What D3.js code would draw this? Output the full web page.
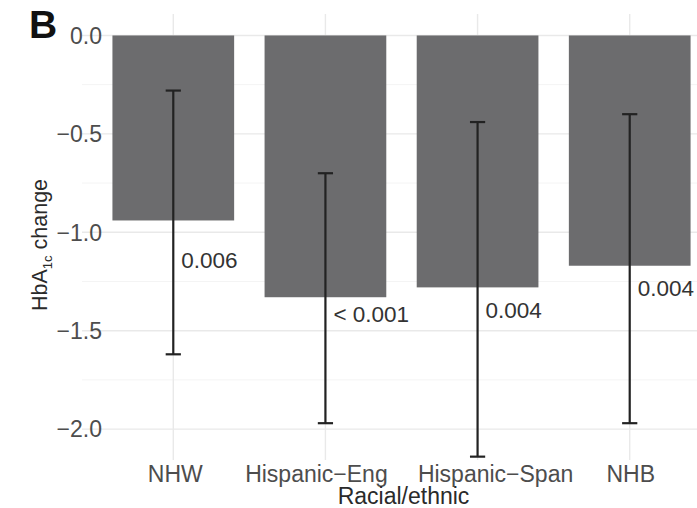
<!DOCTYPE html>
<html>
<head>
<meta charset="utf-8">
<script src="https://cdn.jsdelivr.net/npm/d3@7"></script>
<style>
  html, body { margin: 0; padding: 0; background: #fff; }
  svg { display: block; font-family: "Liberation Sans", Arial, Helvetica, sans-serif; }
</style>
</head>
<body>
<svg id="chart" width="697" height="508"></svg>
<script>
// HbA1c change by racial/ethnic group, with 95% CI and p-values
const categories = ["NHW", "Hispanic−Eng", "Hispanic−Span", "NHB"];
const meanChange = [-0.94, -1.33, -1.28, -1.17];
const ciUpper    = [-0.28, -0.70, -0.44, -0.40];
const ciLower    = [-1.62, -1.97, -2.14, -1.97];
const pLabels    = ["0.006", "< 0.001", "0.004", "0.004"];
const pLabelY    = [-1.14, -1.415, -1.395, -1.283];
const yTicks     = [0, -0.5, -1.0, -1.5, -2.0];
const yMinor     = [-0.25, -0.75, -1.25, -1.75];

const svg = d3.select("#chart");
const panel = { left: 82, right: 721, top: 14, bottom: 460 };

const x = d3.scaleBand()
  .domain(categories)
  .range([panel.left, panel.right])
  .paddingInner(0.2)
  .paddingOuter(0.2);

const y = d3.scaleLinear()
  .domain([-2.157, 0.109])
  .range([panel.bottom, panel.top]);

const cx = c => x(c) + x.bandwidth() / 2;
const fmt = v => (v < 0 ? "−" : "") + Math.abs(v).toFixed(1);

// grid
const grid = svg.append("g");
grid.selectAll(".minor").data(yMinor).join("line")
  .attr("x1", panel.left).attr("x2", panel.right)
  .attr("y1", d => y(d)).attr("y2", d => y(d))
  .attr("stroke", "#f4f4f4").attr("stroke-width", 1);
grid.selectAll(".major").data(yTicks).join("line")
  .attr("x1", panel.left).attr("x2", panel.right)
  .attr("y1", d => y(d)).attr("y2", d => y(d))
  .attr("stroke", "#e9e9e9").attr("stroke-width", 1.4);
grid.selectAll(".vmajor").data(categories).join("line")
  .attr("x1", d => cx(d)).attr("x2", d => cx(d))
  .attr("y1", panel.top).attr("y2", panel.bottom)
  .attr("stroke", "#e9e9e9").attr("stroke-width", 1.4);

// bars
svg.append("g").selectAll("rect").data(categories).join("rect")
  .attr("x", d => x(d))
  .attr("width", x.bandwidth())
  .attr("y", (d, i) => y(Math.max(0, meanChange[i])))
  .attr("height", (d, i) => Math.abs(y(meanChange[i]) - y(0)))
  .attr("fill", "#6c6c6e");

// error bars
const capHalf = x.step() * 0.05;
const eb = svg.append("g").attr("stroke", "#222").attr("stroke-width", 2.2);
categories.forEach((c, i) => {
  eb.append("line").attr("x1", cx(c)).attr("x2", cx(c))
    .attr("y1", y(ciUpper[i])).attr("y2", y(ciLower[i]));
  eb.append("line").attr("x1", cx(c) - capHalf).attr("x2", cx(c) + capHalf)
    .attr("y1", y(ciUpper[i])).attr("y2", y(ciUpper[i]));
  eb.append("line").attr("x1", cx(c) - capHalf).attr("x2", cx(c) + capHalf)
    .attr("y1", y(ciLower[i])).attr("y2", y(ciLower[i]));
});

// p-value labels, set just right of each error bar
svg.append("g").selectAll("text").data(categories).join("text")
  .attr("x", d => cx(d) + 8)
  .attr("y", (d, i) => y(pLabelY[i]))
  .attr("dy", "0.36em")
  .attr("font-size", 22.5)
  .attr("fill", "#333")
  .text((d, i) => pLabels[i]);

// y axis tick labels
svg.append("g").selectAll("text").data(yTicks).join("text")
  .attr("x", 102)
  .attr("y", d => y(d))
  .attr("dy", "0.36em")
  .attr("text-anchor", "end")
  .attr("font-size", 23)
  .attr("fill", "#4d4d4d")
  .text(fmt);

// x axis tick labels; the two long middle labels are spread apart a little
const xLabelNudge = [2, -9, 18, 1];
svg.append("g").selectAll("text").data(categories).join("text")
  .attr("x", (d, i) => cx(d) + xLabelNudge[i])
  .attr("y", 482)
  .attr("text-anchor", "middle")
  .attr("font-size", 23)
  .attr("fill", "#4d4d4d")
  .text(d => d);

// axis titles
svg.append("text")
  .attr("x", (panel.left + panel.right) / 2 + 2).attr("y", 504)
  .attr("text-anchor", "middle")
  .attr("font-size", 23)
  .attr("fill", "#2a2a2a")
  .text("Racial/ethnic");

const yt = svg.append("text")
  .attr("transform", `translate(47, ${(panel.top + panel.bottom) / 2 + 8}) rotate(-90)`)
  .attr("text-anchor", "middle")
  .attr("font-size", 21.5)
  .attr("fill", "#2a2a2a");
yt.append("tspan").text("HbA");
yt.append("tspan").attr("font-size", 13).attr("dy", 5).text("1c");
yt.append("tspan").attr("dy", -5).text(" change");

// panel tag
svg.append("text")
  .attr("x", 29).attr("y", 38)
  .attr("font-size", 39)
  .attr("font-weight", "bold")
  .attr("fill", "#111")
  .text("B");
</script>
</body>
</html>
